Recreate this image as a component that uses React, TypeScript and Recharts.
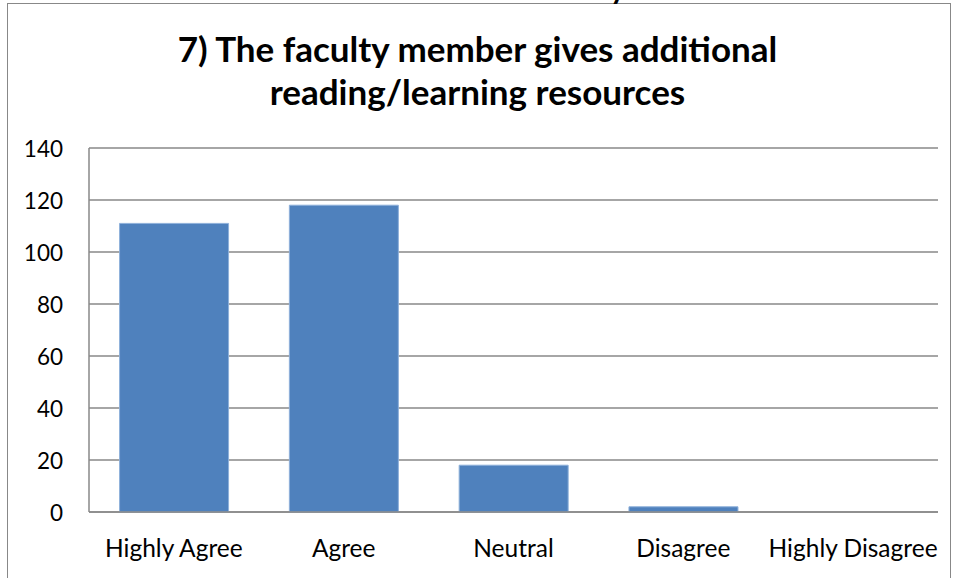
import { BarChart, Bar, XAxis, YAxis, CartesianGrid } from 'recharts'

const categories = ['Highly Agree', 'Agree', 'Neutral', 'Disagree', 'Highly Disagree']
const responses = [111, 118, 18, 2, 0]
const yTicks = [0, 20, 40, 60, 80, 100, 120, 140]

const chartData = categories.map((name, i) => ({ name, value: responses[i] }))

const FONT = 'Lato, "Open Sans", sans-serif'

const XTick = ({ x, y, payload }: any) => (
  <text x={x} y={y + 43} textAnchor="middle" fill="#000" fontSize={24.5} fontFamily={FONT}>
    {payload.value}
  </text>
)

const YTick = ({ y, payload }: any) => (
  <text x={63} y={y + 8.5} textAnchor="end" fill="#000" fontSize={22.5} fontFamily={FONT}>
    {payload.value}
  </text>
)

export default function App() {
  return (
    <div
      style={{
        position: 'fixed',
        top: 0,
        left: 0,
        width: 955,
        height: 578,
        overflow: 'hidden',
        background: '#fff',
      }}
    >
      {/* frame of the chart area */}
      <div
        style={{
          position: 'absolute',
          left: 7,
          top: 3,
          width: 944,
          height: 620,
          border: '1.5px solid #888',
          boxSizing: 'border-box',
        }}
      />
      {/* clipped descender of the title above (cut off in the reference too) */}
      <div
        style={{
          position: 'absolute',
          left: 610,
          top: -28,
          fontFamily: FONT,
          fontWeight: 700,
          fontSize: 30,
          lineHeight: '30px',
          color: '#000',
        }}
      >
        y
      </div>
      <div
        style={{
          position: 'absolute',
          left: 0,
          top: 27,
          width: 955,
          textAlign: 'center',
          fontFamily: FONT,
          fontWeight: 700,
          fontSize: 35,
          lineHeight: '43px',
          color: '#000',
        }}
      >
        7) The faculty member gives additional
        <br />
        reading/learning resources
      </div>
      <div style={{ position: 'absolute', left: 0, top: 0 }}>
        <BarChart
          width={955}
          height={578}
          data={chartData}
          margin={{ top: 148, right: 17, left: 0, bottom: 0 }}
          barCategoryGap="18%"
        >
          <CartesianGrid vertical={false} stroke="#888" strokeWidth={1.5} />
          <XAxis
            dataKey="name"
            axisLine={{ stroke: '#888', strokeWidth: 1.5 }}
            tickLine={false}
            tickSize={0}
            tick={<XTick />}
            interval={0}
            height={66}
          />
          <YAxis
            domain={[0, 140]}
            ticks={yTicks}
            width={89}
            axisLine={{ stroke: '#888', strokeWidth: 1.5 }}
            tickLine={false}
            tickSize={0}
            tick={<YTick />}
            interval={0}
          />
          <Bar
            dataKey="value"
            fill="#4F81BD"
            stroke="#8EB0DA"
            strokeWidth={1}
            isAnimationActive={false}
          />
        </BarChart>
      </div>
    </div>
  )
}
